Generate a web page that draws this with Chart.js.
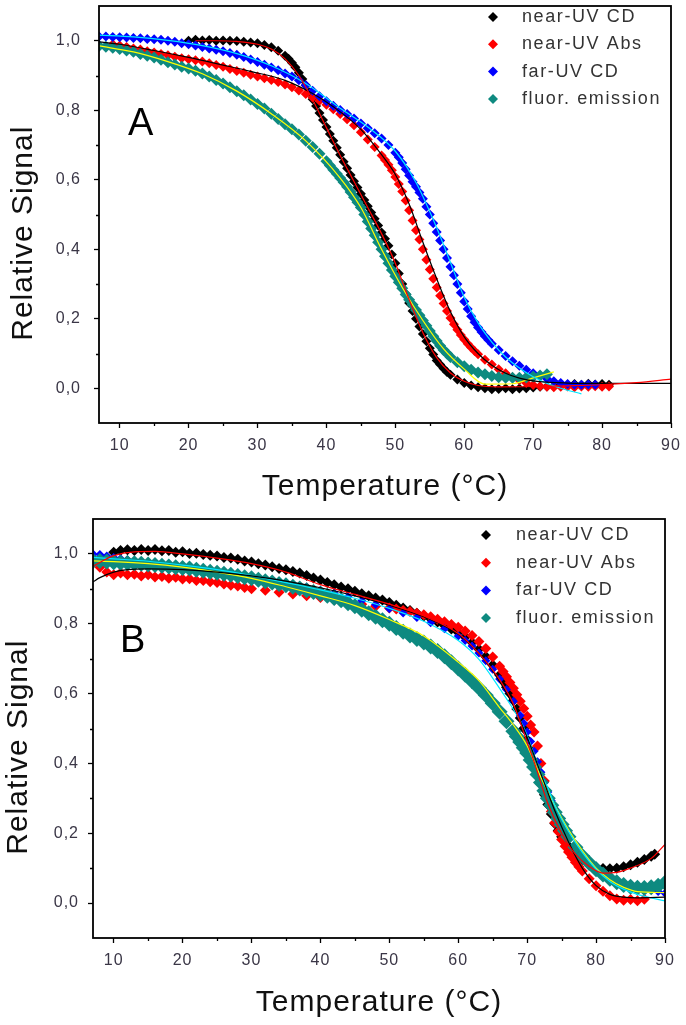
<!DOCTYPE html>
<html>
<head>
<meta charset="utf-8">
<script src="https://cdn.jsdelivr.net/npm/chart.js@4.4.1/dist/chart.umd.min.js"></script>
<style>
  html, body { margin: 0; padding: 0; background: #fff; }
  #wrap { position: relative; width: 686px; height: 1025px; }
  canvas { position: absolute; left: 0; }
  #chartA { top: 0; }
  #chartB { top: 510px; }
</style>
</head>
<body>
<div id="wrap">
  <canvas id="chartA" width="686" height="510"></canvas>
  <canvas id="chartB" width="686" height="515"></canvas>
</div>
<script>
// Thermal unfolding curves - two panels (A, B), values as [T (°C), relative signal]

const seriesLabels = ['near-UV CD', 'near-UV Abs', 'far-UV CD', 'fluor. emission'];
const xTicks = [10, 20, 30, 40, 50, 60, 70, 80, 90];
const xMinorTicks = [15, 25, 35, 45, 55, 65, 75, 85];
const yTicks = [0, 0.2, 0.4, 0.6, 0.8, 1.0];
const yMinorTicks = [0.1, 0.3, 0.5, 0.7, 0.9];

// ---- Panel A ----
const aNearCd = [[20,1.000],[21,1.003],[22,1.001],[23,1.002],[24,1.000],[25,1.001],[26,1.000],[27,0.999],[28,0.997],[29,0.995],[30,0.993],[31,0.988],[32,0.981],[33,0.971],[34,0.957],[34.5,0.948],[35,0.937],[35.5,0.924],[36,0.908],[36.5,0.89],[37,0.872],[37.5,0.852],[38,0.832],[38.5,0.812],[39,0.792],[39.5,0.772],[40,0.752],[40.5,0.732],[41,0.712],[41.5,0.692],[42,0.672],[42.5,0.652],[43,0.633],[43.5,0.614],[44,0.596],[44.5,0.578],[45,0.56],[45.5,0.542],[46,0.524],[46.5,0.506],[47,0.488],[47.5,0.468],[48,0.448],[48.5,0.43],[49,0.41],[49.5,0.385],[50,0.36],[50.5,0.33],[51,0.3],[51.5,0.272],[52,0.245],[52.5,0.222],[53,0.2],[53.5,0.178],[54,0.156],[54.5,0.135],[55,0.115],[55.5,0.097],[56,0.08],[56.5,0.068],[57,0.057],[57.5,0.047],[58,0.039],[59,0.025],[60,0.015],[61,0.008],[62,0.003],[63,0.0],[64,-0.003],[65,-0.002],[66,0.0],[67,-0.003],[68,-0.001],[69,0.0],[70,0.002],[71,0.004],[72,0.005],[73,0.006],[74,0.008],[75,0.01],[76,0.012],[77,0.01],[78,0.013],[79,0.011],[80,0.012],[81,0.01]];
const aNearCdFit = [[21,1.0],[24,1.0],[27,0.998],[30,0.99],[32,0.976],[34,0.948],[36,0.9],[38,0.83],[40,0.75],[42,0.67],[44,0.595],[46,0.52],[48,0.445],[50,0.36],[52,0.255],[54,0.16],[56,0.088],[58,0.044],[60,0.02],[62,0.008],[65,0.004],[70,0.005],[75,0.007],[80,0.01],[85,0.016],[90,0.026]];
const aNearAbs = [[9,0.99],[10,0.986],[11,0.982],[12,0.978],[13,0.975],[14,0.97],[15,0.966],[16,0.962],[17,0.958],[18,0.954],[19,0.95],[20,0.947],[21,0.944],[22,0.94],[23,0.935],[24,0.93],[25,0.925],[26,0.919],[27,0.913],[28,0.908],[29,0.902],[30,0.897],[31,0.892],[32,0.887],[33,0.881],[34,0.874],[35,0.866],[36,0.857],[37,0.847],[38,0.837],[39,0.827],[40,0.816],[41,0.803],[42,0.789],[43,0.774],[44,0.757],[45,0.737],[46,0.716],[47,0.694],[48,0.67],[48.5,0.657],[49,0.643],[49.5,0.627],[50,0.608],[50.5,0.588],[51,0.566],[51.5,0.54],[52,0.512],[52.5,0.483],[53,0.455],[53.5,0.428],[54,0.4],[54.5,0.37],[55,0.342],[55.5,0.315],[56,0.29],[56.5,0.266],[57,0.244],[57.5,0.222],[58,0.202],[58.5,0.184],[59,0.168],[59.5,0.153],[60,0.14],[60.5,0.128],[61,0.117],[61.5,0.107],[62,0.098],[63,0.082],[64,0.068],[65,0.055],[66,0.043],[67,0.032],[68,0.023],[69,0.015],[70,0.009],[71,0.006],[72,0.004],[73,0.003],[74,0.004],[75,0.005],[76,0.003],[77,0.005],[78,0.004],[79,0.006],[80,0.004],[81,0.005]];
const aNearAbsFit = [[7,0.997],[10,0.99],[15,0.972],[20,0.952],[25,0.93],[29,0.912],[34,0.886],[38,0.848],[41,0.81],[45,0.745],[48,0.672],[50,0.615],[52,0.53],[54,0.42],[56,0.315],[58,0.22],[60,0.148],[62,0.1],[64,0.066],[66,0.043],[68,0.029],[70,0.021],[75,0.015],[80,0.014],[90,0.014]];
const aFarCd = [[7,1.012],[8,1.012],[9,1.011],[10,1.01],[11,1.009],[12,1.008],[13,1.007],[14,1.005],[15,1.004],[16,1.003],[17,1.0],[18,0.997],[19,0.993],[20,0.99],[21,0.986],[22,0.982],[23,0.978],[24,0.974],[25,0.97],[26,0.965],[27,0.96],[28,0.953],[29,0.946],[30,0.939],[31,0.931],[32,0.923],[33,0.915],[34,0.906],[35,0.897],[36,0.886],[37,0.872],[38,0.856],[39,0.84],[40,0.826],[41,0.813],[42,0.801],[43,0.789],[44,0.776],[45,0.762],[46,0.748],[47,0.734],[48,0.719],[49,0.7],[50,0.678],[50.5,0.665],[51,0.648],[51.5,0.63],[52,0.612],[52.5,0.594],[53,0.58],[53.5,0.563],[54,0.545],[54.5,0.522],[55,0.5],[55.5,0.475],[56,0.45],[56.5,0.425],[57,0.4],[57.5,0.375],[58,0.35],[58.5,0.325],[59,0.3],[59.5,0.275],[60,0.25],[60.5,0.228],[61,0.207],[61.5,0.19],[62,0.175],[62.5,0.162],[63,0.15],[63.5,0.139],[64,0.128],[65,0.11],[66,0.093],[67,0.078],[68,0.065],[69,0.053],[70,0.043],[71,0.035],[72,0.027],[73,0.02],[74,0.015],[75,0.012],[76,0.01],[77,0.01],[78,0.011],[79,0.01]];
const aFarCdFit = [[7,1.016],[12,1.011],[17,1.001],[22,0.986],[27,0.963],[32,0.928],[37,0.877],[42,0.806],[46,0.752],[50,0.682],[53,0.592],[56,0.462],[58,0.362],[60,0.262],[62,0.188],[64,0.133],[66,0.09],[68,0.058],[70,0.033],[72,0.014],[74,0.0],[77,-0.016]];
const aFluor = [[7,0.985],[8,0.983],[9,0.98],[10,0.976],[11,0.972],[12,0.968],[13,0.962],[14,0.957],[15,0.952],[16,0.945],[17,0.938],[18,0.932],[19,0.925],[20,0.92],[21,0.914],[22,0.906],[23,0.897],[24,0.887],[25,0.877],[26,0.866],[27,0.855],[28,0.843],[29,0.831],[30,0.818],[31,0.805],[32,0.79],[33,0.775],[34,0.76],[35,0.745],[36,0.73],[37,0.712],[38,0.694],[39,0.675],[40,0.653],[40.5,0.641],[41,0.629],[41.5,0.617],[42,0.605],[42.5,0.593],[43,0.58],[43.5,0.565],[44,0.55],[44.5,0.535],[45,0.52],[45.5,0.5],[46,0.48],[46.5,0.46],[47,0.44],[47.5,0.42],[48,0.4],[48.5,0.38],[49,0.36],[49.5,0.34],[50,0.322],[50.5,0.305],[51,0.288],[51.5,0.27],[52,0.255],[52.5,0.24],[53,0.225],[53.5,0.21],[54,0.195],[54.5,0.18],[55,0.165],[55.5,0.15],[56,0.136],[56.5,0.122],[57,0.11],[57.5,0.1],[58,0.09],[59,0.075],[60,0.063],[61,0.053],[62,0.045],[63,0.04],[64,0.035],[65,0.032],[66,0.03],[67,0.03],[68,0.03],[69,0.031],[70,0.034],[71,0.037],[72,0.04]];
const aFluorFit = [[7,0.985],[12,0.968],[17,0.94],[22,0.905],[27,0.855],[32,0.79],[37,0.712],[42,0.605],[45,0.52],[48,0.4],[51,0.29],[54,0.195],[57,0.113],[60,0.055],[63,0.012],[67,0.013],[70,0.03],[73,0.047]];

// ---- Panel B ----
const bNearCd = [[10,1.005],[11,1.01],[12,1.012],[13,1.01],[14,1.013],[15,1.01],[16,1.013],[17,1.009],[18,1.01],[19,1.005],[20,1.006],[21,1.001],[22,1.002],[23,0.998],[24,0.996],[25,0.994],[26,0.99],[27,0.988],[28,0.985],[29,0.98],[30,0.977],[31,0.972],[32,0.968],[33,0.963],[34,0.958],[35,0.955],[36,0.95],[37,0.945],[38,0.938],[39,0.931],[40,0.925],[41,0.918],[42,0.912],[43,0.905],[44,0.9],[45,0.893],[46,0.886],[47,0.88],[48,0.874],[49,0.868],[50,0.861],[51,0.853],[52,0.845],[53,0.838],[54,0.83],[55,0.822],[56,0.814],[57,0.805],[58,0.795],[59,0.785],[60,0.775],[61,0.762],[62,0.746],[63,0.727],[64,0.706],[65,0.682],[66,0.653],[66.5,0.636],[67,0.618],[67.5,0.6],[68,0.58],[68.5,0.556],[69,0.53],[69.5,0.5],[70,0.468],[70.5,0.438],[71,0.405],[71.5,0.372],[72,0.34],[72.5,0.31],[73,0.282],[73.5,0.255],[74,0.228],[74.5,0.208],[75,0.19],[75.5,0.176],[76,0.163],[76.5,0.153],[77,0.143],[77.5,0.134],[78,0.125],[79,0.111],[80,0.103],[81,0.099],[82,0.098],[83,0.1],[84,0.104],[85,0.11],[86,0.117],[87,0.125],[88,0.134],[88.5,0.14]];
const bNearCdFit = [[7,0.965],[10,0.995],[13,1.006],[16,1.007],[20,1.0],[25,0.988],[30,0.972],[35,0.948],[40,0.912],[45,0.884],[50,0.856],[55,0.822],[60,0.772],[63,0.715],[66,0.64],[68,0.57],[70,0.46],[71,0.405],[73,0.285],[75,0.2],[77,0.14],[79,0.105],[81,0.086],[83,0.088],[85,0.1],[88,0.128],[90,0.168]];
const bNearAbs = [[8,0.962],[9,0.948],[10,0.94],[11,0.945],[12,0.94],[13,0.942],[14,0.937],[15,0.94],[16,0.934],[17,0.935],[18,0.93],[19,0.933],[20,0.928],[21,0.929],[22,0.924],[23,0.924],[24,0.92],[25,0.918],[26,0.914],[27,0.91],[28,0.908],[29,0.904],[30,0.9],[32,0.896],[34,0.89],[36,0.885],[38,0.88],[40,0.875],[42,0.868],[44,0.862],[46,0.856],[48,0.85],[50,0.845],[51,0.842],[52,0.838],[53,0.835],[54,0.83],[55,0.826],[56,0.82],[57,0.813],[58,0.806],[59,0.798],[60,0.79],[61,0.779],[62,0.766],[63,0.749],[64,0.729],[65,0.705],[66,0.678],[66.5,0.663],[67,0.648],[67.5,0.632],[68,0.615],[68.5,0.597],[69,0.578],[69.5,0.557],[70,0.535],[70.5,0.51],[71,0.49],[71.5,0.45],[72,0.4],[72.5,0.35],[73,0.3],[73.5,0.262],[74,0.23],[74.5,0.205],[75,0.182],[75.5,0.163],[76,0.146],[76.5,0.131],[77,0.117],[77.5,0.104],[78,0.092],[79,0.07],[80,0.05],[81,0.034],[82,0.021],[83,0.012],[84,0.008],[85,0.01],[86,0.007],[87,0.011]];
const bNearAbsFit = [[7,0.92],[8,0.932],[10,0.948],[12,0.955],[15,0.957],[20,0.955],[25,0.948],[30,0.937],[35,0.922],[40,0.903],[45,0.88],[50,0.853],[55,0.82],[60,0.77],[63,0.715],[66,0.635],[68,0.565],[70,0.475],[72,0.37],[74,0.265],[76,0.175],[78,0.1],[80,0.05],[82,0.025],[84,0.017],[86,0.015],[90,0.017]];
const bFarCd = [[7,1.0],[8,0.998],[9,0.994],[10,0.99],[11,0.986],[12,0.983],[14,0.978],[16,0.973],[18,0.968],[20,0.963],[22,0.958],[24,0.953],[26,0.947],[28,0.941],[30,0.935],[32,0.928],[34,0.921],[36,0.913],[38,0.905],[40,0.896],[42,0.887],[44,0.877],[46,0.866],[48,0.855],[50,0.843],[52,0.831],[54,0.818],[56,0.803],[58,0.786],[60,0.765],[61,0.752],[62,0.736],[63,0.716],[64,0.694],[65,0.67],[66,0.642],[67,0.612],[68,0.578],[69,0.537],[69.5,0.515],[70,0.49],[70.5,0.463],[71,0.435],[71.5,0.405],[72,0.375],[72.5,0.345],[73,0.318],[73.5,0.293],[74,0.27],[74.5,0.25],[75,0.232],[76,0.2],[77,0.165],[78,0.135],[79,0.11],[80,0.092],[81,0.078],[82,0.067],[83,0.058],[84,0.052],[85,0.048],[86,0.045],[87,0.043],[88,0.038],[89,0.033],[90,0.028]];
const bFarCdFit = [[7,0.99],[10,0.986],[15,0.979],[20,0.968],[25,0.955],[30,0.938],[35,0.918],[40,0.897],[45,0.873],[50,0.844],[55,0.807],[60,0.752],[63,0.698],[66,0.615],[68,0.555],[69,0.523],[70,0.48],[72,0.37],[73,0.33],[74,0.28],[76,0.205],[78,0.145],[80,0.097],[82,0.062],[84,0.04],[86,0.025],[90,0.006]];
const bFluor = [[7,0.98],[8,0.98],[9,0.978],[10,0.976],[11,0.975],[12,0.974],[13,0.973],[14,0.972],[15,0.97],[16,0.968],[17,0.966],[18,0.964],[19,0.962],[20,0.96],[21,0.958],[22,0.955],[23,0.952],[24,0.949],[25,0.946],[26,0.943],[27,0.94],[28,0.937],[29,0.933],[30,0.93],[31,0.926],[32,0.922],[33,0.918],[34,0.914],[35,0.91],[36,0.906],[37,0.901],[38,0.896],[39,0.891],[40,0.886],[41,0.88],[42,0.874],[43,0.867],[44,0.859],[45,0.85],[46,0.84],[47,0.83],[48,0.82],[49,0.81],[50,0.8],[51,0.788],[52,0.777],[53,0.766],[54,0.756],[55,0.746],[56,0.735],[57,0.722],[58,0.707],[59,0.69],[60,0.672],[61,0.654],[62,0.635],[63,0.616],[64,0.595],[65,0.572],[66,0.548],[67,0.521],[68,0.492],[68.5,0.477],[69,0.461],[69.5,0.445],[70,0.43],[70.5,0.41],[71,0.39],[71.5,0.368],[72,0.345],[72.5,0.322],[73,0.3],[73.5,0.28],[74,0.26],[74.5,0.242],[75,0.225],[75.5,0.207],[76,0.19],[77,0.16],[78,0.135],[79,0.115],[80,0.097],[81,0.082],[82,0.07],[83,0.06],[84,0.052],[85,0.047],[86,0.044],[87,0.043],[88,0.045],[89,0.05],[90,0.058]];
const bFluorFit = [[7,0.98],[10,0.978],[15,0.972],[20,0.962],[25,0.948],[30,0.93],[35,0.906],[40,0.88],[45,0.852],[50,0.812],[55,0.765],[60,0.69],[63,0.637],[66,0.56],[68,0.51],[70,0.45],[72,0.36],[74,0.28],[76,0.21],[78,0.15],[80,0.1],[82,0.067],[84,0.045],[86,0.033],[90,0.03]];

const FONT = '"Liberation Sans", Arial, sans-serif';
const TICK_COLOR = '#3a3646';
const TEAL = '#0e8a80';

function pts(arr) {
  return arr.map(p => ({ x: p[0], y: p[1] }));
}

function markers(label, data, color, radius, order) {
  return {
    label: label,
    data: pts(data),
    showLine: false,
    pointStyle: 'rectRot',
    pointRadius: radius,
    pointHoverRadius: radius,
    pointBorderWidth: 0,
    backgroundColor: color,
    borderColor: color,
    inLegend: true,
    order: order
  };
}

function fitLine(data, color) {
  return {
    label: '',
    data: pts(data),
    showLine: true,
    pointRadius: 0,
    borderColor: color,
    borderWidth: 1.2,
    fill: false,
    cubicInterpolationMode: 'monotone',
    order: 0
  };
}

// axis sizes are fixed so the plot box lands where it is in the figure
function fixAxis(size, horizontal) {
  return (s) => {
    if (horizontal) s.height = size; else s.width = size;
    s.paddingTop = 0;
    s.paddingBottom = 0;
    s.paddingLeft = 0;
    s.paddingRight = 0;
  };
}

// frame box, minor ticks, panel letter and legend drawn on top of the chart
const panelDecor = {
  id: 'panelDecor',
  beforeDraw(chart) {
    chart.ctx.letterSpacing = '1px';
  },
  afterDraw(chart, args, opts) {
    const ctx = chart.ctx;
    const area = chart.chartArea;
    const xs = chart.scales.x;
    const ys = chart.scales.y;
    ctx.save();
    ctx.strokeStyle = '#000';
    ctx.lineWidth = 1.8;
    ctx.strokeRect(area.left, area.top, area.right - area.left, area.bottom - area.top);

    ctx.lineWidth = 1.3;
    ctx.beginPath();
    xMinorTicks.forEach(v => {
      const px = Math.round(xs.getPixelForValue(v)) + 0.5;
      ctx.moveTo(px, area.bottom);
      ctx.lineTo(px, area.bottom + 3);
    });
    yMinorTicks.forEach(v => {
      const py = Math.round(ys.getPixelForValue(v)) + 0.5;
      ctx.moveTo(area.left - 3, py);
      ctx.lineTo(area.left, py);
    });
    ctx.stroke();

    // panel letter
    ctx.letterSpacing = '0px';
    ctx.fillStyle = '#000';
    ctx.font = '38px ' + FONT;
    ctx.textAlign = 'left';
    ctx.textBaseline = 'alphabetic';
    ctx.fillText(opts.letter, opts.letterX, opts.letterY);

    // legend
    ctx.letterSpacing = '1.6px';
    ctx.font = '18px ' + FONT;
    ctx.textBaseline = 'middle';
    const items = chart.data.datasets.filter(d => d.inLegend);
    items.forEach((d, i) => {
      const y = opts.legendY + i * opts.legendStep;
      ctx.fillStyle = d.backgroundColor;
      ctx.beginPath();
      ctx.moveTo(opts.markerX, y - 5);
      ctx.lineTo(opts.markerX + 5, y);
      ctx.lineTo(opts.markerX, y + 5);
      ctx.lineTo(opts.markerX - 5, y);
      ctx.closePath();
      ctx.fill();
      ctx.fillStyle = '#333';
      ctx.fillText(d.label, opts.textX, y);
    });
    ctx.restore();
  }
};

function makePanel(canvasId, datasets, cfg) {
  const ctx = document.getElementById(canvasId).getContext('2d');
  return new Chart(ctx, {
    type: 'scatter',
    data: { datasets: datasets },
    plugins: [panelDecor],
    options: {
      responsive: false,
      animation: false,
      devicePixelRatio: 1,
      layout: { padding: { top: cfg.padTop, right: cfg.padRight, left: 0, bottom: 0 } },
      plugins: {
        legend: { display: false },
        tooltip: { enabled: false },
        panelDecor: cfg.decor
      },
      scales: {
        x: {
          type: 'linear',
          min: 7,
          max: 90,
          afterBuildTicks: s => { s.ticks = xTicks.map(v => ({ value: v })); },
          afterFit: fixAxis(cfg.xHeight, true),
          grid: { display: true, drawOnChartArea: false, drawTicks: true, tickLength: 5, color: '#000', tickColor: '#000', tickWidth: 1.3 },
          border: { display: false },
          ticks: {
            autoSkip: false,
            maxRotation: 0,
            padding: 8,
            color: TICK_COLOR,
            font: { family: FONT, size: 16 },
            callback: v => String(v)
          },
          title: {
            display: true,
            text: 'Temperature (°C)',
            color: '#111',
            font: { family: FONT, size: 30 },
            padding: { top: 0, bottom: cfg.xTitlePad }
          }
        },
        y: {
          type: 'linear',
          min: -0.1,
          max: 1.1,
          afterBuildTicks: s => { s.ticks = yTicks.map(v => ({ value: v })); },
          afterFit: fixAxis(cfg.yWidth, false),
          grid: { display: true, drawOnChartArea: false, drawTicks: true, tickLength: 5, color: '#000', tickColor: '#000', tickWidth: 1.3 },
          border: { display: false },
          ticks: {
            padding: cfg.yTickPad,
            color: TICK_COLOR,
            font: { family: FONT, size: 16 },
            callback: v => v.toFixed(1).replace('.', ',')
          },
          title: {
            display: true,
            text: 'Relative Signal    ',
            color: '#111',
            font: { family: FONT, size: 30 },
            padding: { top: cfg.yTitlePad, bottom: 0 }
          }
        }
      }
    }
  });
}

document.addEventListener('DOMContentLoaded', () => {
  // 1. Panel A
  makePanel('chartA', [
    markers(seriesLabels[0], aNearCd, '#000000', 5, 4),
    markers(seriesLabels[1], aNearAbs, '#ff0000', 5, 3),
    markers(seriesLabels[2], aFarCd, '#0000ff', 5, 2),
    markers(seriesLabels[3], aFluor, TEAL, 6, 1),
    fitLine(aNearCdFit, '#ff0000'),
    fitLine(aNearAbsFit, '#000000'),
    fitLine(aFarCdFit, '#00e8ff'),
    fitLine(aFluorFit, '#ffff00')
  ], {
    padTop: 4, padRight: 15, xHeight: 87, yWidth: 99,
    xTitlePad: 5, yTitlePad: 6, yTickPad: 13,
    decor: { letter: 'A', letterX: 128, letterY: 135, markerX: 493, textX: 522, legendY: 17, legendStep: 27.3 }
  });

  // 2. Panel B
  makePanel('chartB', [
    markers(seriesLabels[0], bNearCd, '#000000', 5.5, 4),
    markers(seriesLabels[1], bNearAbs, '#ff0000', 5.5, 3),
    markers(seriesLabels[2], bFarCd, '#0000ff', 4.5, 2),
    markers(seriesLabels[3], bFluor, TEAL, 8, 1),
    fitLine(bNearCdFit, '#ff0000'),
    fitLine(bNearAbsFit, '#000000'),
    fitLine(bFarCdFit, '#00e8ff'),
    fitLine(bFluorFit, '#ffff00')
  ], {
    padTop: 9, padRight: 21, xHeight: 87, yWidth: 93,
    xTitlePad: 4, yTitlePad: 1, yTickPad: 9,
    decor: { letter: 'B', letterX: 120, letterY: 142, markerX: 486, textX: 516, legendY: 25, legendStep: 27.7 }
  });
});
</script>
</body>
</html>
